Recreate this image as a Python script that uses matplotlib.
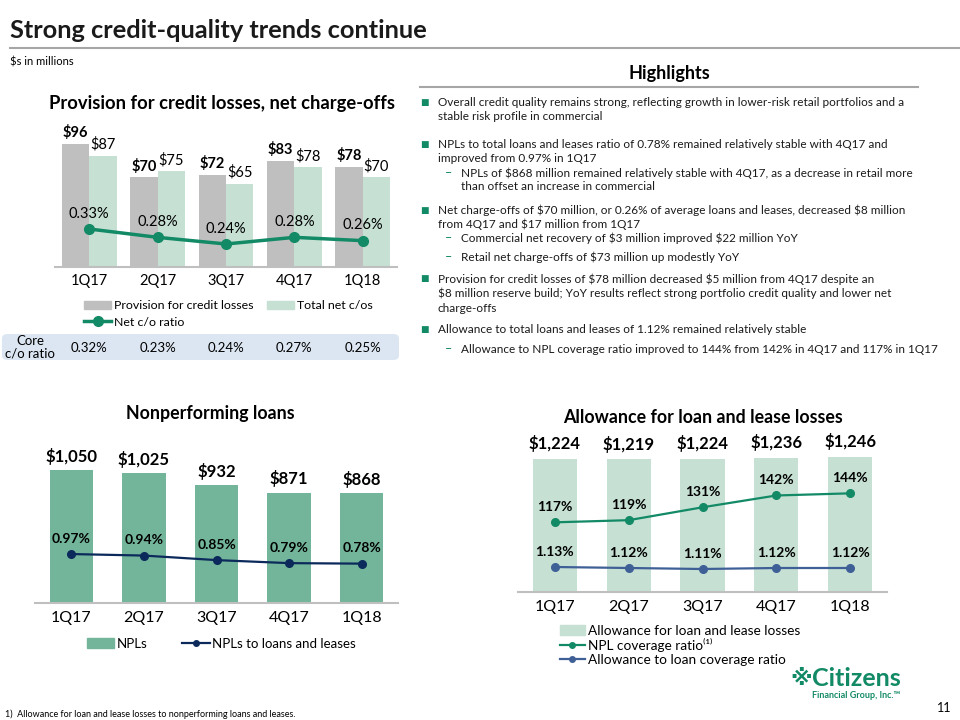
import numpy as np
import matplotlib
matplotlib.use('Agg')
import matplotlib.pyplot as plt
from matplotlib.patches import FancyBboxPatch, Patch
from matplotlib.lines import Line2D
from matplotlib.transforms import blended_transform_factory

plt.rcParams['font.family'] = ['Lato', 'DejaVu Sans']

# --------- Data ---------
quarters = ['1Q17', '2Q17', '3Q17', '4Q17', '1Q18']
provision = [96, 70, 72, 83, 78]
total_nco = [87, 75, 65, 78, 70]
nco_ratio = [0.33, 0.28, 0.24, 0.28, 0.26]
core_ratio = [0.32, 0.23, 0.24, 0.27, 0.25]
npls = [1050, 1025, 932, 871, 868]
npl_ratio = [0.97, 0.94, 0.85, 0.79, 0.78]
allowance = [1224, 1219, 1224, 1236, 1246]
npl_coverage = [117, 119, 131, 142, 144]
allow_ratio = [1.13, 1.12, 1.11, 1.12, 1.12]

# --------- Colors ---------
GRAY = '#bfbfbf'
LGREEN = '#c6e0d3'
MGREEN = '#72b59a'
DGREEN = '#138a66'
NAVY = '#0b2a5b'
BLUE = '#3f6097'
AXIS = '#bfbfbf'

W, H = 960, 720


def box(l, t, r, b):
    return [l / W, 1 - b / H, (r - l) / W, (b - t) / H]


def fx(x):
    return x / W


def fy(y):
    return 1 - y / H


def clean(ax, bottom=True):
    for s in ['top', 'right', 'left']:
        ax.spines[s].set_visible(False)
    if bottom:
        ax.spines['bottom'].set_color(AXIS)
        ax.spines['bottom'].set_linewidth(1.5)
    else:
        ax.spines['bottom'].set_visible(False)
    ax.set_yticks([])


fig = plt.figure(figsize=(9.6, 7.2), dpi=100)

# --------- Header ---------
fig.text(fx(10), fy(31), 'Strong credit-quality trends continue', fontsize=18.3,
         fontweight='bold', va='center', color='#1a1a1a')
fig.add_artist(Line2D([fx(10), fx(960)], [fy(48), fy(48)], color='#a6a6a6', lw=1.5))
fig.text(fx(10), fy(62), '$s in millions', fontsize=8, va='center')

x = np.arange(len(quarters))

# --------- Provision / net charge-offs ---------
fig.text(fx(222), fy(103), 'Provision for credit losses, net charge-offs',
         fontsize=13.2, fontweight='bold', ha='center', va='center')
ax1 = fig.add_axes(box(55, 125, 397, 267))
ax1.bar(x - 0.2, provision, 0.4, color=GRAY)
ax1.bar(x + 0.2, total_nco, 0.4, color=LGREEN)
for xi, v in zip(x, provision):
    ax1.annotate(f'${v}', (xi - 0.2, v), xytext=(0, 8), textcoords='offset points',
                 ha='center', va='center', fontsize=10.5, fontweight='bold')
for xi, v in zip(x, total_nco):
    ax1.annotate(f'${v}', (xi + 0.2, v), xytext=(0, 8), textcoords='offset points',
                 ha='center', va='center', fontsize=10.5)
ax1.set_xlim(-0.5, 4.5)
ax1.set_ylim(0, 110.8)
ax1.set_xticks(x, quarters)
ax1.tick_params(axis='x', length=0, pad=5, labelsize=10.5)
clean(ax1)
ax1r = ax1.twinx()
ax1r.plot(x, nco_ratio, color=DGREEN, lw=2.5, marker='o', ms=7)
for xi, v in zip(x, nco_ratio):
    ax1r.annotate(f'{v:.2f}%', (xi, v), xytext=(0, 11), textcoords='offset points',
                  ha='center', va='center', fontsize=10.5)
ax1r.set_ylim(0.102, 0.954)
clean(ax1r, bottom=False)

h1 = [Patch(color=GRAY), Line2D([], [], color=DGREEN, lw=2.5, marker='o', ms=7),
      Patch(color=LGREEN)]
l1 = ['Provision for credit losses', 'Net c/o ratio', 'Total net c/os']
fig.legend(h1, l1, loc='upper left', bbox_to_anchor=(fx(78), fy(294)), ncol=2,
           frameon=False, fontsize=8.9, handlelength=2.2, handletextpad=0.2,
           columnspacing=1.1, labelspacing=0.45, borderpad=0)

# core c/o ratio box
fig.add_artist(FancyBboxPatch((fx(2), fy(360)), fx(397), fy(334) - fy(360),
                              boxstyle='round,pad=0,rounding_size=0.006',
                              transform=fig.transFigure, color='#dce6f2', lw=0))
fig.text(fx(30), fy(347), 'Core\nc/o ratio', fontsize=9.5, ha='center', va='center',
         linespacing=1.0)
bt = blended_transform_factory(ax1.transData, fig.transFigure)
for xi, v in zip(x, core_ratio):
    fig.text(xi, fy(348), f'{v:.2f}%', transform=bt, fontsize=9.5, ha='center', va='center')

# --------- Highlights ---------
fig.text(fx(669), fy(73), 'Highlights', fontsize=13, fontweight='bold',
         ha='center', va='center')
fig.add_artist(Line2D([fx(420), fx(918)], [fy(87), fy(87)], color='#a6a6a6', lw=1.5))
lines = [
    (102, 'b', "Overall credit quality remains strong, reflecting growth in lower-risk retail portfolios and a"),
    (116, 'c', "stable risk profile in commercial"),
    (144, 'b', "NPLs to total loans and leases ratio of 0.78% remained relatively stable with 4Q17 and"),
    (158, 'c', "improved from 0.97% in 1Q17"),
    (173, 's', "NPLs of $868 million remained relatively stable with 4Q17, as a decrease in retail more"),
    (187, 'sc', "than offset an increase in commercial"),
    (210, 'b', "Net charge-offs of $70 million, or 0.26% of average loans and leases, decreased $8 million"),
    (224, 'c', "from 4Q17 and $17 million from 1Q17"),
    (238, 's', "Commercial net recovery of $3 million improved $22 million YoY"),
    (257, 's', "Retail net charge-offs of $73 million up modestly YoY"),
    (279, 'b', "Provision for credit losses of $78 million decreased $5 million from 4Q17 despite an"),
    (293, 'c', "$8 million reserve build; YoY results reflect strong portfolio credit quality and lower net"),
    (308, 'c', "charge-offs"),
    (330, 'b', "Allowance to total loans and leases of 1.12% remained relatively stable"),
    (349, 's', "Allowance to NPL coverage ratio improved to 144% from 142% in 4Q17 and 117% in 1Q17"),
]
for yy, kind, txt in lines:
    if kind == 'b':
        fig.text(fx(424), fy(yy), '■', fontsize=6.5, color=DGREEN, ha='center',
                 va='center', family='DejaVu Sans')
    if kind == 's':
        fig.text(fx(448), fy(yy), '–', fontsize=9, color=DGREEN, ha='center', va='center')
    xt = 438 if kind in ('b', 'c') else 461
    fig.text(fx(xt), fy(yy), txt, fontsize=8.5, va='center', parse_math=False,
             color='#1a1a1a')

# --------- Nonperforming loans ---------
fig.text(fx(210), fy(414), 'Nonperforming loans', fontsize=12.8, fontweight='bold',
         ha='center', va='center')
ax3 = fig.add_axes(box(35, 440, 398, 603))
ax3.bar(x, npls, 0.6, color=MGREEN)
for xi, v in zip(x, npls):
    ax3.annotate(f'${v:,}', (xi, v), xytext=(0, 10), textcoords='offset points',
                 ha='center', va='center', fontsize=12, fontweight='bold')
ax3.set_xlim(-0.5, 4.5)
ax3.set_ylim(0, 1287)
ax3.set_xticks(x, quarters)
ax3.tick_params(axis='x', length=0, pad=6, labelsize=11.5)
clean(ax3)
ax3r = ax3.twinx()
ax3r.plot(x, npl_ratio, color=NAVY, lw=1.6, marker='o', ms=5.5)
for xi, v in zip(x, npl_ratio):
    ax3r.annotate(f'{v:.2f}%', (xi, v), xytext=(0, 11), textcoords='offset points',
                  ha='center', va='center', fontsize=10, fontweight='bold')
ax3r.set_ylim(0, 3.23)
clean(ax3r, bottom=False)
h3 = [Patch(color=MGREEN), Line2D([], [], color=NAVY, lw=1.6, marker='o', ms=4)]
fig.legend(h3, ['NPLs', 'NPLs to loans and leases'], loc='upper left',
           bbox_to_anchor=(fx(80), fy(631)), ncol=2, frameon=False, fontsize=9.5,
           handlelength=2.1, handletextpad=0.2, columnspacing=2.6, borderpad=0)

# --------- Allowance for loan and lease losses ---------
fig.text(fx(703), fy(417), 'Allowance for loan and lease losses', fontsize=12.8,
         fontweight='bold', ha='center', va='center')
ax4 = fig.add_axes(box(518, 430, 887, 592))
ax4.bar(x, allowance, 0.6, color=LGREEN)
for xi, v in zip(x, allowance):
    ax4.annotate(f'${v:,}', (xi, v), xytext=(0, 11), textcoords='offset points',
                 ha='center', va='center', fontsize=12, fontweight='bold')
ax4.set_xlim(-0.5, 4.5)
ax4.set_ylim(0, 1490)
ax4.set_xticks(x, quarters)
ax4.tick_params(axis='x', length=0, pad=6, labelsize=11.5)
clean(ax4)
ax4a = ax4.twinx()
ax4a.plot(x, npl_coverage, color=DGREEN, lw=1.6, marker='o', ms=5.5)
for xi, v in zip(x, npl_coverage):
    ax4a.annotate(f'{v}%', (xi, v), xytext=(0, 11), textcoords='offset points',
                  ha='center', va='center', fontsize=10, fontweight='bold')
ax4a.set_ylim(52.1, 203)
clean(ax4a, bottom=False)
ax4b = ax4.twinx()
ax4b.plot(x, allow_ratio, color=BLUE, lw=1.6, marker='o', ms=5.5)
for xi, v in zip(x, allow_ratio):
    ax4b.annotate(f'{v:.2f}%', (xi, v), xytext=(0, 11), textcoords='offset points',
                  ha='center', va='center', fontsize=10, fontweight='bold')
ax4b.set_ylim(0.88, 2.50)
clean(ax4b, bottom=False)
h4 = [Patch(color=LGREEN), Line2D([], [], color=DGREEN, lw=1.6, marker='o', ms=4),
      Line2D([], [], color=BLUE, lw=1.6, marker='o', ms=4)]
l4 = ['Allowance for loan and lease losses', 'NPL coverage ratio⁽¹⁾',
      'Allowance to loan coverage ratio']
fig.legend(h4, l4, loc='upper left', bbox_to_anchor=(fx(553), fy(618)), frameon=False,
           fontsize=9.8, handlelength=1.85, handletextpad=0.2, labelspacing=0.1,
           borderpad=0)

# --------- Footer ---------
fig.text(fx(5), fy(714), '1)  Allowance for loan and lease losses to nonperforming loans and leases.',
         fontsize=6.5, va='center')
fig.text(fx(801), fy(679), '※', fontsize=16, color=DGREEN, ha='center', va='center',
         fontweight='bold', family='DejaVu Sans')
fig.text(fx(812), fy(679), 'Citizens', fontsize=18, color=DGREEN, fontweight='bold',
         va='center')
fig.text(fx(900), fy(696), 'Financial Group, Inc.™', fontsize=6.5, color=DGREEN,
         fontweight='bold', ha='right', va='center')
fig.text(fx(944), fy(708), '11', fontsize=9, ha='center', va='center')

fig.savefig('out.png', dpi=100)
